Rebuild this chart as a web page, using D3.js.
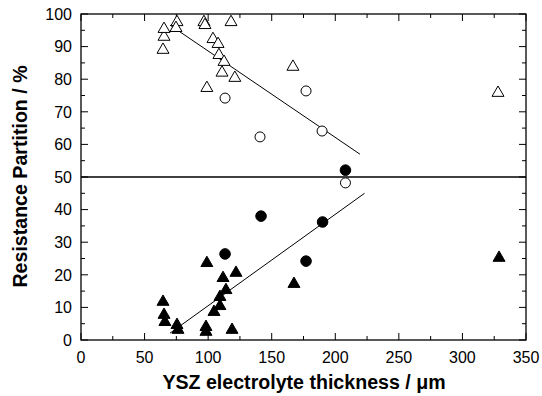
<!DOCTYPE html>
<html><head><meta charset="utf-8">
<script src="https://cdn.jsdelivr.net/npm/d3@7"></script>
<style>body{margin:0;background:#fff}svg{display:block}text{font-family:"Liberation Sans",Arial,sans-serif;fill:#000}</style>
</head><body>
<svg id="c" width="542" height="396"></svg>
<script>
// Data (x = thickness in µm, y = resistance partition in %)
const openTriX = [64.5,65.3,65.3,75.5,74.7,96.7,97.5,118,103.8,107.8,108.5,112.5,110.9,121,99,166.7,328];
const openTriY = [89,93,95.4,97.5,95.7,97.5,96.6,97.5,92.3,90.8,87.4,85.3,82,80.4,77.3,83.8,75.8];
const openCircX = [113.3,140.8,177,189.6,208];
const openCircY = [74.2,62.3,76.4,64.1,48.2];
const fillCircX = [208,141.6,190,177,113.3];
const fillCircY = [52.1,38,36.2,24.2,26.4];
const fillTriX = [64.5,65.3,66,75.5,76.3,99,98.3,98.3,111.7,121.9,114,109.3,109.3,104.6,118.8,167.5,328.8];
const fillTriY = [11.7,7.7,5.5,4.6,3.1,23.6,4,2.5,19,20.6,15.3,13.2,10.4,8.6,3.1,17.2,25.2];
const upperFitX = [70,219.4];
const upperFitY = [96.6,57];
const lowerFitX = [70,223];
const lowerFitY = [2.1,45];
const refLineY = 50;
const xTicks = [0,50,100,150,200,250,300,350];
const yTicks = [0,10,20,30,40,50,60,70,80,90,100];
const xTitle = "YSZ electrolyte thickness / \u03bcm";
const yTitle = "Resistance Partition / %";

const L=81,T=14,R=526,B=340;
const svg=d3.select("#c");
const x=d3.scaleLinear().domain([0,350]).range([L,R]);
const y=d3.scaleLinear().domain([0,100]).range([B,T]);

// ticks (inward)
const g=svg.append("g").attr("stroke","#000").attr("stroke-width",1);
const xMinor=d3.range(0,351,25), yMinor=d3.range(0,101,5);
xMinor.forEach(v=>{const len=v%50===0?7:4;
  g.append("line").attr("x1",x(v)).attr("x2",x(v)).attr("y1",B).attr("y2",B-len);
  g.append("line").attr("x1",x(v)).attr("x2",x(v)).attr("y1",T).attr("y2",T+len);});
yMinor.forEach(v=>{const len=v%10===0?7:4;
  g.append("line").attr("y1",y(v)).attr("y2",y(v)).attr("x1",L).attr("x2",L+len);
  g.append("line").attr("y1",y(v)).attr("y2",y(v)).attr("x1",R).attr("x2",R-len);});

// frame
svg.append("rect").attr("x",L).attr("y",T).attr("width",R-L).attr("height",B-T)
  .attr("fill","none").attr("stroke","#000").attr("stroke-width",1.3);

// tick labels
svg.append("g").selectAll("text").data(xTicks).join("text")
  .attr("x",d=>x(d)).attr("y",B+23).attr("text-anchor","middle").attr("font-size",16).text(d=>d);
svg.append("g").selectAll("text").data(yTicks).join("text")
  .attr("x",L-9).attr("y",d=>y(d)+5.7).attr("text-anchor","end").attr("font-size",16).text(d=>d);

// titles
svg.append("text").attr("x",304).attr("y",389).attr("text-anchor","middle")
  .attr("font-size",19.6).attr("font-weight","bold").text(xTitle);
svg.append("text").attr("transform",`translate(27,176.5) rotate(-90)`).attr("text-anchor","middle")
  .attr("font-size",19.6).attr("font-weight","bold").text(yTitle);

// lines
const line=d3.line().x(d=>x(d[0])).y(d=>y(d[1]));
svg.append("line").attr("x1",L).attr("x2",R).attr("y1",y(refLineY)).attr("y2",y(refLineY))
  .attr("stroke","#000").attr("stroke-width",1.3);
svg.append("path").attr("d",line(d3.zip(upperFitX,upperFitY))).attr("stroke","#000").attr("fill","none").attr("stroke-width",1);
svg.append("path").attr("d",line(d3.zip(lowerFitX,lowerFitY))).attr("stroke","#000").attr("fill","none").attr("stroke-width",1);

// markers
const tri=d3.symbol().type(d3.symbolTriangle).size(62);
function tris(xs,ys,filled){
  svg.append("g").selectAll("path").data(d3.zip(xs,ys)).join("path")
   .attr("d",tri).attr("transform",d=>`translate(${x(d[0])},${y(d[1])})`)
   .attr("fill",filled?"#000":"#fff").attr("stroke","#000").attr("stroke-width",1);
}
function circs(xs,ys,filled){
  svg.append("g").selectAll("circle").data(d3.zip(xs,ys)).join("circle")
   .attr("cx",d=>x(d[0])).attr("cy",d=>y(d[1])).attr("r",filled?5.3:5)
   .attr("fill",filled?"#000":"#fff").attr("stroke","#000").attr("stroke-width",1);
}
tris(openTriX,openTriY,false);
circs(openCircX,openCircY,false);
circs(fillCircX,fillCircY,true);
tris(fillTriX,fillTriY,true);
</script></body></html>
